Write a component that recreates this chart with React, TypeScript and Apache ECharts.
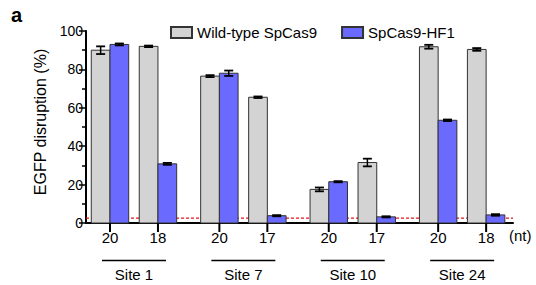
import React, { useEffect, useRef } from "react";
import * as echarts from "echarts";

const sites = ["Site 1", "Site 7", "Site 10", "Site 24"];
const ntLabels = ["20", "18", "20", "17", "20", "17", "20", "18"];
const wildType = [90, 92, 76.5, 65.5, 17.5, 31.5, 91.8, 90.4];
const wildTypeErr = [2, 0.4, 0.5, 0.4, 1, 2, 1, 0.7];
const hf1 = [93, 30.8, 78, 3.8, 21.5, 3.2, 53.5, 4.2];
const hf1Err = [0.5, 0.5, 1.4, 0.3, 0.3, 0.3, 0.4, 0.4];
const threshold = 2.5;
const yTicks = [0, 20, 40, 60, 80, 100];

const SITE_STEP = 2.28;
const X_MAX = 8.9;
const BAR_W = 0.39;
const FONT = '"Liberation Sans", Arial, sans-serif';

const positions = ntLabels.map((_, i) => Math.floor(i / 2) * SITE_STEP + (i % 2) + 0.5);

function barRender(side: "left" | "right", fill: string) {
  return (params: any, api: any) => {
    const x = api.value(0);
    const y = api.value(1);
    const e = api.value(2);
    const x0 = side === "left" ? x - BAR_W : x;
    const tl = api.coord([x0, y]);
    const br = api.coord([x0 + BAR_W, 0]);
    const c = x0 + BAR_W / 2;
    const top = api.coord([c, y + e]);
    const bot = api.coord([c, y - e]);
    const cap = 4.5;
    return {
      type: "group",
      children: [
        {
          type: "rect",
          shape: { x: tl[0], y: tl[1], width: br[0] - tl[0], height: br[1] - tl[1] },
          style: { fill, stroke: "#333", lineWidth: 1 },
        },
        {
          type: "line",
          shape: { x1: top[0], y1: top[1], x2: bot[0], y2: bot[1] },
          style: { stroke: "#000", lineWidth: 1.5 },
        },
        {
          type: "line",
          shape: { x1: top[0] - cap, y1: top[1], x2: top[0] + cap, y2: top[1] },
          style: { stroke: "#000", lineWidth: 1.8 },
        },
        {
          type: "line",
          shape: { x1: bot[0] - cap, y1: bot[1], x2: bot[0] + cap, y2: bot[1] },
          style: { stroke: "#000", lineWidth: 1.8 },
        },
      ],
    };
  };
}

export default function App() {
  const ref = useRef<HTMLDivElement>(null);
  useEffect(() => {
    if (!ref.current) return;
    const chart = echarts.init(ref.current, null, { renderer: "svg" });
    const option: any = {
      animation: false,
      grid: { left: 86, right: 23, top: 31, bottom: 62 },
      legend: {
        data: ["Wild-type SpCas9", "SpCas9-HF1"],
        left: 165,
        top: 20,
        itemWidth: 21,
        itemHeight: 11,
        itemGap: 24,
        icon: "rect",
        textStyle: { fontSize: 15, fontFamily: FONT, color: "#000" },
      },
      xAxis: {
        type: "value",
        min: 0,
        max: X_MAX,
        axisLine: { show: true, lineStyle: { color: "#000", width: 2 } },
        axisTick: { show: false },
        axisLabel: { show: false },
        splitLine: { show: false },
      },
      yAxis: {
        type: "value",
        min: 0,
        max: 100,
        interval: 20,
        name: "EGFP disruption (%)",
        nameLocation: "middle",
        nameGap: 35,
        nameTextStyle: { fontSize: 16, fontFamily: FONT, color: "#000", padding: [0, 0, 0, 10] },
        axisLine: { show: true, lineStyle: { color: "#000", width: 2 } },
        axisTick: { show: true, length: 7, lineStyle: { color: "#000", width: 1.5 } },
        minorTick: { show: true, splitNumber: 2, length: 4, lineStyle: { color: "#000", width: 1.5 } },
        axisLabel: {
          fontSize: 14,
          fontFamily: FONT,
          color: "#000",
          margin: 3,
          customValues: yTicks,
        },
        splitLine: { show: false },
      },
      series: [
        {
          type: "line",
          name: "threshold",
          data: [
            [0, threshold],
            [X_MAX, threshold],
          ],
          symbol: "none",
          silent: true,
          z: 1,
          lineStyle: { color: "#e8141c", width: 1.3, type: [3, 2] },
        },
        {
          type: "custom",
          name: "Wild-type SpCas9",
          z: 3,
          itemStyle: { color: "#d3d3d3", borderColor: "#333", borderWidth: 1 },
          data: positions.map((p, i) => [p, wildType[i], wildTypeErr[i]]),
          renderItem: barRender("left", "#d3d3d3"),
        },
        {
          type: "custom",
          name: "SpCas9-HF1",
          z: 3,
          itemStyle: { color: "#6a6aff", borderColor: "#333", borderWidth: 1 },
          data: positions.map((p, i) => [p, hf1[i], hf1Err[i]]),
          renderItem: barRender("right", "#6a6aff"),
        },
        {
          type: "custom",
          name: "ntTicks",
          clip: false,
          silent: true,
          z: 5,
          data: positions.map((p, i) => [p, 0, i]),
          renderItem: (params: any, api: any) => {
            const pt = api.coord([api.value(0), 0]);
            const idx = api.value(2);
            return {
              type: "group",
              children: [
                {
                  type: "line",
                  shape: { x1: pt[0], y1: pt[1], x2: pt[0], y2: pt[1] + 9 },
                  style: { stroke: "#000", lineWidth: 2 },
                },
                {
                  type: "text",
                  x: pt[0],
                  y: pt[1] + 14,
                  style: {
                    text: ntLabels[idx],
                    align: "center",
                    verticalAlign: "middle",
                    font: `15px ${FONT}`,
                    fill: "#000",
                  },
                },
              ],
            };
          },
        },
        {
          type: "custom",
          name: "siteGroups",
          clip: false,
          silent: true,
          z: 5,
          data: sites.map((_, i) => [positions[2 * i], positions[2 * i + 1], i]),
          renderItem: (params: any, api: any) => {
            const a = api.coord([api.value(0), 0]);
            const b = api.coord([api.value(1), 0]);
            const idx = api.value(2);
            return {
              type: "group",
              children: [
                {
                  type: "line",
                  shape: { x1: a[0] - 8, y1: a[1] + 37.5, x2: b[0] + 8, y2: a[1] + 37.5 },
                  style: { stroke: "#000", lineWidth: 1.3 },
                },
                {
                  type: "text",
                  x: (a[0] + b[0]) / 2,
                  y: a[1] + 51,
                  style: {
                    text: sites[idx],
                    align: "center",
                    verticalAlign: "middle",
                    font: `15px ${FONT}`,
                    fill: "#000",
                  },
                },
              ],
            };
          },
        },
      ],
      graphic: [
        {
          type: "text",
          left: 11,
          top: 5,
          style: { text: "a", font: `bold 20px ${FONT}`, fill: "#000" },
        },
        {
          type: "text",
          left: 509,
          top: 228,
          style: { text: "(nt)", font: `15px ${FONT}`, fill: "#000" },
        },
      ],
    };
    chart.setOption(option);
    return () => chart.dispose();
  }, []);
  return (
    <div
      ref={ref}
      style={{ position: "fixed", left: 0, top: 0, width: 536, height: 285, background: "#fff" }}
    />
  );
}
